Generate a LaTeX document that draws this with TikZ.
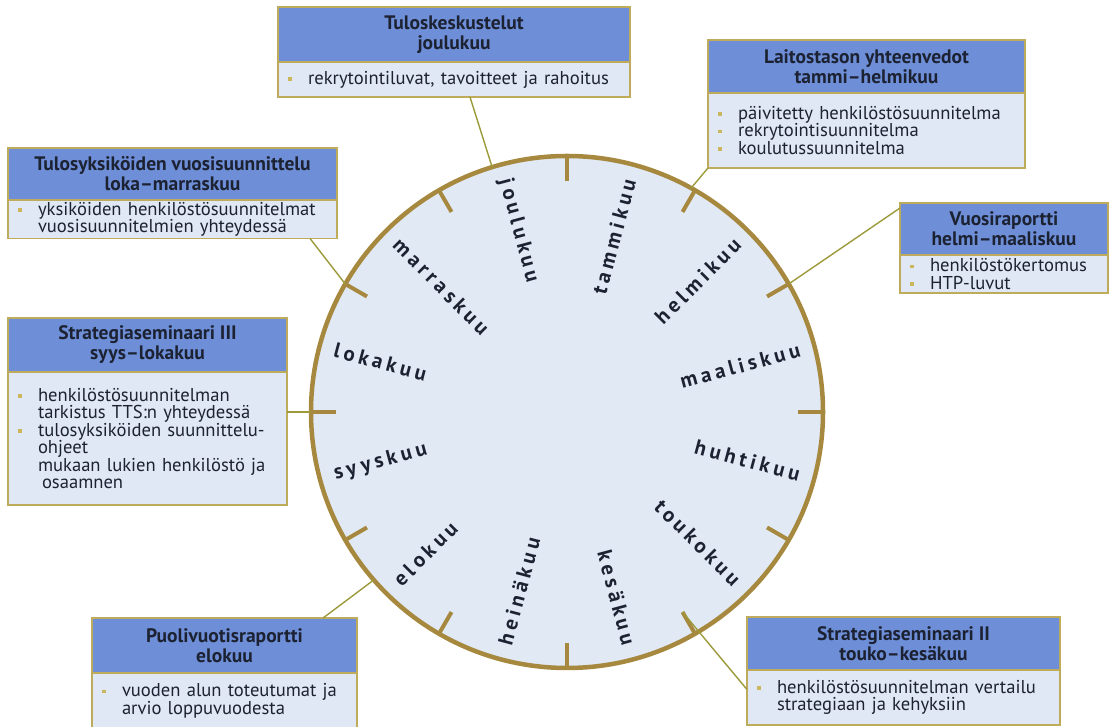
\documentclass[tikz,border=0pt]{standalone}
\usepackage{fontspec}
\setmainfont{PT Sans}
\newfontfamily\monthfont[LetterSpace=19]{PT Sans}
\usepackage{tikz}
\usetikzlibrary{positioning}

\definecolor{headblue}{RGB}{110,143,216}
\definecolor{bodyblue}{RGB}{224,232,246}
\definecolor{wheelfill}{RGB}{224,233,244}
\definecolor{wheelrim}{RGB}{166,137,62}
\definecolor{boxrim}{RGB}{190,172,92}
\definecolor{linkline}{RGB}{156,154,58}
\definecolor{inktext}{RGB}{28,34,50}
\definecolor{dotcol}{RGB}{204,182,92}

\newcommand{\itemdot}{\makebox[22pt][l]{\hspace{2pt}\raisebox{3.5pt}{\textcolor{dotcol}{\rule{3.6pt}{3.6pt}}}}}
\newcommand{\itemskip}{\hspace*{22pt}}

\begin{document}
\begin{tikzpicture}[x=1pt,y=1pt,node distance=0pt]
\tikzstyle{headbox}=[draw=boxrim,fill=headblue,line width=1.3pt,outer sep=0pt,anchor=north west,
  align=center,text=inktext,font=\bfseries\fontsize{19.5}{20}\selectfont]
\tikzstyle{bodybox}=[draw=boxrim,fill=bodyblue,line width=1.3pt,outer sep=0pt,inner xsep=8pt,
  inner ysep=2pt,align=left,text=inktext,font=\fontsize{18.6}{17.5}\selectfont]
\tikzstyle{wheel}=[draw=wheelrim,fill=wheelfill,line width=4.5pt]
\tikzstyle{tick}=[draw=wheelrim,line width=4pt]
\tikzstyle{month}=[inner sep=0pt,text=inktext,font=\monthfont\bfseries\fontsize{21}{21}\selectfont]
\tikzstyle{link}=[draw=linkline,line width=1.4pt]

\useasboundingbox (0,0) rectangle (1110,727);

% the year wheel
\coordinate (c) at (567,315);
\draw[wheel] (c) circle[radius=256];
\foreach \t in {0,30,...,330}
  \draw[tick] ([shift={(\t:257)}]c) -- ([shift={(\t:231)}]c);

\foreach \ang/\month in {75/tammikuu,45/helmikuu,15/maaliskuu,-15/huhtikuu,-45/toukokuu,-75/kesäkuu}
  \node[month,rotate=\ang,anchor=east] (m\ang) at ([shift={(\ang:241)}]c) {\month};
\foreach \ang/\month in {105/joulukuu,135/marraskuu,165/lokakuu,195/syyskuu,225/elokuu,255/heinäkuu}
  \node[month,rotate=\ang-180,anchor=west] (m\ang) at ([shift={(\ang:241)}]c) {\month};

% points on the rim
\coordinate (rim107) at ([shift={(107:256)}]c);
\coordinate (rim61)  at ([shift={(61:256)}]c);
\coordinate (rim150) at ([shift={(150:256)}]c);
\coordinate (rim180) at ([shift={(180:256)}]c);
\coordinate (rim30)  at ([shift={(30:256)}]c);
\coordinate (rim221) at ([shift={(221:256)}]c);
\coordinate (tick300) at ([shift={(300:231)}]c);

% boxes
\node[headbox,minimum width=352,minimum height=55] (tulos) at (278,720) {Tuloskeskustelut\\joulukuu};
\node[bodybox,text width=336,minimum height=35,below=of tulos] (tulosb)
  {\itemdot rekrytointiluvat, tavoitteet ja rahoitus};

\node[headbox,minimum width=317,minimum height=53] (laitos) at (708,687) {Laitostason yhteenvedot\\tammi–helmikuu};
\node[bodybox,text width=301,minimum height=75,below=of laitos] (laitosb)
  {\itemdot päivitetty henkilöstösuunnitelma\\\itemdot rekrytointisuunnitelma\\\itemdot koulutussuunnitelma};

\node[headbox,minimum width=329,minimum height=52] (yks) at (8,579) {Tulosyksiköiden vuosisuunnittelu\\loka–marraskuu};
\node[bodybox,text width=313,minimum height=38,below=of yks] (yksb)
  {\itemdot yksiköiden henkilöstösuunnitelmat\\\itemskip vuosisuunnitelmien yhteydessä};

\node[headbox,minimum width=279,minimum height=54] (semk) at (8,409) {Strategiaseminaari III\\syys–lokakuu};
\node[bodybox,text width=263,minimum height=133,below=of semk] (semkb)
  {\itemdot henkilöstösuunnitelman\\\itemskip tarkistus TTS:n yhteydessä\\\itemdot tulosyksiköiden suunnittelu-\\\itemskip ohjeet\\\itemskip mukaan lukien henkilöstö ja\\\itemskip\hspace*{4pt}osaamnen};

\node[headbox,minimum width=208,minimum height=52] (vuosi) at (900,524) {Vuosiraportti\\helmi–maaliskuu};
\node[bodybox,text width=192,minimum height=38,below=of vuosi] (vuosib)
  {\itemdot henkilöstökertomus\\\itemdot HTP-luvut};

\node[headbox,minimum width=265,minimum height=55] (puoli) at (92,109) {Puolivuotisraportti\\elokuu};
\node[bodybox,text width=249,minimum height=56,below=of puoli] (puolib)
  {\itemdot vuoden alun toteutumat ja\\\itemskip arvio loppuvuodesta};

\node[headbox,minimum width=313,minimum height=53] (semt) at (747,110) {Strategiaseminaari II\\touko–kesäkuu};
\node[bodybox,text width=297,minimum height=55,below=of semt] (semtb)
  {\itemdot henkilöstösuunnitelman vertailu\\\itemskip strategiaan ja kehyksiin};

% connectors
\path[link] ([xshift=16pt]tulosb.south) edge (rim107)
  (laitosb.south west) edge (rim61)
  ([xshift=-27pt]yksb.south east) edge (rim150)
  (rim180 -| semkb.east) edge (rim180)
  ([yshift=-5pt]vuosi.north west) edge (rim30)
  ([xshift=-34pt]puoli.north east) edge (rim221)
  (tick300) edge ([yshift=8pt]semtb.west);
\end{tikzpicture}
\end{document}
